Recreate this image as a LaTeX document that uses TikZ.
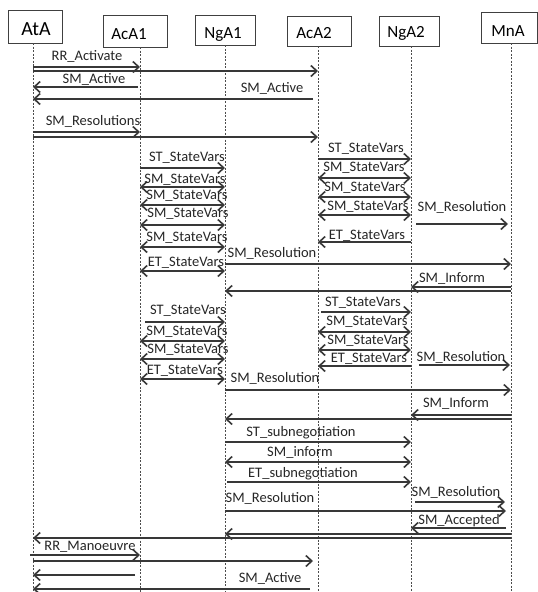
\documentclass[tikz,border=0pt]{standalone}
\usepackage{fontspec}
\setmainfont{Carlito}
\usetikzlibrary{arrows.meta}
\begin{document}
\begin{tikzpicture}[x=1pt,y=-1pt,
 hbox/.style={draw=black!75, line width=0.8pt, anchor=north west, inner sep=0pt},
 htxt/.style={inner sep=0pt, anchor=center, font=\fontsize{17}{20}\selectfont},
 life/.style={draw=black!70, line width=0.8pt, dash pattern=on 2pt off 1.5pt},
 msg/.style={draw=black!78, line width=1.3pt, >={Straight Barb[length=6pt,width=11pt,line width=1.6pt]}},
 lbl/.style={anchor=mid, inner sep=0pt, font=\fontsize{14.5}{16}\selectfont, text=black!85}]
\fill[white] (0,0) rectangle (538,592);
\useasboundingbox (0,0) rectangle (538,592);

% header boxes
\node[hbox, minimum width=54pt, minimum height=33pt] (AtA) at (8,10) {};
\node[hbox, minimum width=64pt, minimum height=32pt] (AcA1) at (103,15) {};
\node[hbox, minimum width=60pt, minimum height=30pt] (NgA1) at (195,15) {};
\node[hbox, minimum width=64pt, minimum height=30pt] (AcA2) at (287,16) {};
\node[hbox, minimum width=60pt, minimum height=30pt] (NgA2) at (379,16) {};
\node[hbox, minimum width=56pt, minimum height=31pt] (MnA) at (481,12) {};
\node[htxt, font=\fontsize{20}{22}\selectfont] (tAtA) at (36,29) {AtA};
\node[htxt] (tAcA1) at (129,34) {AcA1};
\node[htxt] (tNgA1) at (223,34) {NgA1};
\node[htxt] (tAcA2) at (314,33) {AcA2};
\node[htxt] (tNgA2) at (406,33) {NgA2};
\node[htxt] (tMnA) at (508,31) {MnA};

% lifelines
\coordinate (LAtA) at (33,43);
\coordinate (LAcA1) at (140,47);
\coordinate (LNgA1) at (225,45);
\coordinate (LAcA2) at (318,46);
\coordinate (LNgA2) at (411,46);
\coordinate (LMnA) at (511,43);
\coordinate (bot) at (0,592);
\foreach \l in {LAtA,LAcA1,LNgA1,LAcA2,LNgA2,LMnA}
  \draw[life] (\l) -- (\l |- bot);

% messages
\draw[msg,->] (LAtA |- 0,67) -- (LAcA1 |- 0,67);
\node[lbl] (m1) at (87,58) {RR\_Activate};
\draw[msg,->] (LAtA |- 0,71) -- (LAcA2 |- 0,71);
\draw[msg,->,shorten <=2pt] (LAcA1 |- 0,87) -- (LAtA |- 0,87);
\node[lbl] (m3) at (94,81) {SM\_Active};
\draw[msg,->,shorten <=5pt] (LAcA2 |- 0,99) -- (LAtA |- 0,99);
\node[lbl] (m4) at (272,90) {SM\_Active};
\draw[msg,->] (LAtA |- 0,132) -- (LAcA1 |- 0,132);
\node[lbl] (m5) at (93,123) {SM\_Resolutions};
\draw[msg,->] (LAtA |- 0,137) -- (LAcA2 |- 0,137);

% first AcA1 - NgA1 block
\draw[msg,->] (LAcA1 |- 0,168) -- (LNgA1 |- 0,168);
\node[lbl] (m7) at (187,159) {ST\_StateVars};
\draw[msg,<->] (LAcA1 |- 0,187) -- (LNgA1 |- 0,187);
\node[lbl] (m8) at (185,181) {SM\_StateVars};
\draw[msg,<->] (LAcA1 |- 0,205) -- (LNgA1 |- 0,205);
\node[lbl] (m9) at (187,197) {SM\_StateVars};
\draw[msg,<->] (LAcA1 |- 0,225) -- (LNgA1 |- 0,225);
\node[lbl] (m10) at (188,215) {SM\_StateVars};
\draw[msg,<->] (LAcA1 |- 0,247) -- (LNgA1 |- 0,247);
\node[lbl] (m11) at (187,239) {SM\_StateVars};
\draw[msg,<->] (LAcA1 |- 0,271) -- (LNgA1 |- 0,271);
\node[lbl] (m12) at (186,264) {ET\_StateVars};

% first AcA2 - NgA2 block
\draw[msg,->] (LAcA2 |- 0,159) -- (LNgA2 |- 0,159);
\node[lbl] (m13) at (366,150) {ST\_StateVars};
\draw[msg,<->] (LAcA2 |- 0,178) -- (LNgA2 |- 0,178);
\node[lbl] (m14) at (364,169) {SM\_StateVars};
\draw[msg,<->] (LAcA2 |- 0,197) -- (LNgA2 |- 0,197);
\node[lbl] (m15) at (365,189) {SM\_StateVars};
\draw[msg,<->] (LAcA2 |- 0,215) -- (LNgA2 |- 0,215);
\node[lbl] (m16) at (368,208) {SM\_StateVars};
\draw[msg,->,shorten <=5pt,shorten >=3pt] (LNgA2 |- 0,224) -- (LMnA |- 0,224);
\node[lbl] (m17) at (462,209) {SM\_Resolution};
\draw[msg,->] (LNgA2 |- 0,242) -- (LAcA2 |- 0,242);
\node[lbl] (m18) at (367,237) {ET\_StateVars};
\draw[msg,->] (LNgA1 |- 0,264) -- (LMnA |- 0,264);
\node[lbl] (m19) at (272,255) {SM\_Resolution};
\draw[msg,->] (LMnA |- 0,287) -- (LNgA2 |- 0,287);
\node[lbl] (m20) at (452,280) {SM\_Inform};
\draw[msg,->] (LMnA |- 0,291) -- (LNgA1 |- 0,291);

% second AcA1 - NgA1 block
\draw[msg,->,shorten <=5pt] (LAcA1 |- 0,322) -- (LNgA1 |- 0,322);
\node[lbl] (m22) at (188,312) {ST\_StateVars};
\draw[msg,<->] (LAcA1 |- 0,341) -- (LNgA1 |- 0,341);
\node[lbl] (m23) at (187,333) {SM\_StateVars};
\draw[msg,<->] (LAcA1 |- 0,359) -- (LNgA1 |- 0,359);
\node[lbl] (m24) at (188,351) {SM\_StateVars};
\draw[msg,<->] (LAcA1 |- 0,379) -- (LNgA1 |- 0,379);
\node[lbl] (m25) at (185,372) {ET\_StateVars};

% second AcA2 - NgA2 block
\draw[msg,->,shorten <=3pt] (LAcA2 |- 0,312) -- (LNgA2 |- 0,312);
\node[lbl] (m26) at (363,304) {ST\_StateVars};
\draw[msg,<->] (LAcA2 |- 0,332) -- (LNgA2 |- 0,332);
\node[lbl] (m27) at (367,323) {SM\_StateVars};
\draw[msg,<->] (LAcA2 |- 0,350) -- (LNgA2 |- 0,350);
\node[lbl] (m28) at (368,342) {SM\_StateVars};
\draw[msg,->] (LNgA2 |- 0,366) -- (LAcA2 |- 0,366);
\node[lbl] (m29) at (369,360) {ET\_StateVars};
\draw[msg,->,shorten <=8pt,shorten >=1pt] (LNgA2 |- 0,365) -- (LMnA |- 0,365);
\node[lbl] (m30) at (461,359) {SM\_Resolution};
\draw[msg,->] (LNgA1 |- 0,390) -- (LMnA |- 0,390);
\node[lbl] (m31) at (275,380) {SM\_Resolution};
\draw[msg,->] (LMnA |- 0,415) -- (LNgA2 |- 0,415);
\node[lbl] (m32) at (456,405) {SM\_Inform};
\draw[msg,->] (LMnA |- 0,419) -- (LNgA1 |- 0,419);

% subnegotiation
\draw[msg,->] (LNgA1 |- 0,442) -- (LNgA2 |- 0,442);
\node[lbl] (m34) at (301,434) {ST\_subnegotiation};
\draw[msg,<->] (LNgA1 |- 0,462) -- (LNgA2 |- 0,462);
\node[lbl] (m35) at (300,454) {SM\_inform};
\draw[msg,->,shorten <=2pt] (LNgA1 |- 0,482) -- (LNgA2 |- 0,482);
\node[lbl] (m36) at (303,475) {ET\_subnegotiation};
\draw[msg,->,shorten <=4pt,shorten >=6pt] (LNgA2 |- 0,502) -- (LMnA |- 0,502);
\node[lbl] (m37) at (456,494) {SM\_Resolution};
\draw[msg,->,shorten >=5pt] (LNgA1 |- 0,511) -- (LMnA |- 0,511);
\node[lbl] (m38) at (270,500) {SM\_Resolution};
\draw[msg,->,shorten <=5pt] (LMnA |- 0,528) -- (LNgA2 |- 0,528);
\node[lbl] (m39) at (459,522) {SM\_Accepted};
\draw[msg,->] (LMnA |- 0,534) -- (LNgA1 |- 0,534);
\draw[msg,->] (LMnA |- 0,538) -- (LAtA |- 0,538);

% end
\draw[msg,->,shorten <=-3pt] (LAtA |- 0,555) -- (LAcA1 |- 0,555);
\node[lbl] (m42) at (90,548) {RR\_Manoeuvre};
\draw[msg,->,shorten >=5pt] (LAtA |- 0,561) -- (LAcA2 |- 0,561);
\draw[msg,->,shorten <=5pt] (LAcA1 |- 0,575) -- (LAtA |- 0,575);
\draw[msg,->,shorten <=8pt] (LAcA2 |- 0,589) -- (LAtA |- 0,589);
\node[lbl] (m45) at (270,580) {SM\_Active};
\end{tikzpicture}
\end{document}
